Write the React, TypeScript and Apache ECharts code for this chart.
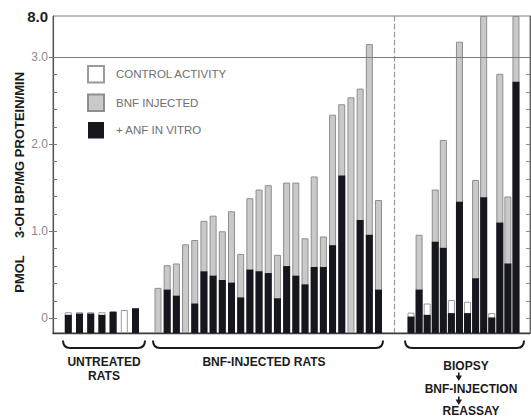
import React, { useEffect, useRef } from 'react';
import * as echarts from 'echarts';

// ---------- data ----------
const untreatedCats = ['U1', 'U2', 'U3', 'U4', 'U5', 'U6', 'U7'];
const untreatedControl = [0.07, 0.07, 0.07, 0.07, 0.08, 0.095, 0.115];
const untreatedAnf = [0.04, 0.055, 0.055, 0.04, 0.075, null, 0.115];

const bnfCats = ['B1', 'B2', 'B3', 'B4', 'B5', 'B6', 'B7', 'B8', 'B9', 'B10', 'B11', 'B12', 'B13', 'B14', 'B15', 'B16', 'B17', 'B18', 'B19', 'B20', 'B21', 'B22', 'B23', 'B24', 'B25'];
const bnfInjected = [0.35, 0.61, 0.63, 0.85, 0.9, 1.12, 1.18, 1.0, 1.23, 0.74, 1.38, 1.48, 1.53, 0.73, 1.56, 1.56, 0.92, 1.63, 0.94, 2.34, 2.46, 2.54, 2.64, 4.6, 1.36];
const bnfAnf = [null, 0.33, 0.26, null, 0.17, 0.54, 0.49, 0.44, 0.41, 0.24, 0.56, 0.54, 0.52, 0.23, 0.6, 0.49, 0.39, 0.59, 0.59, 0.84, 1.64, null, 1.13, 0.96, 0.33];

const biopsyCats = ['P1', 'P2', 'P3', 'P4', 'P5', 'P6', 'P7', 'P8', 'P9', 'P10', 'P11', 'P12', 'P13', 'P14'];
const biopsyControl = [0.065, null, 0.17, null, null, 0.21, null, 0.19, null, null, 0.06, null, null, null];
const biopsyInjected = [null, 0.96, null, 1.48, 2.05, null, 4.88, null, 1.59, 8.0, null, 2.81, 1.4, 8.0];
const biopsyAnf = [0.02, 0.33, 0.04, 0.88, 0.81, 0.06, 1.34, 0.06, 0.46, 1.39, 0.01, 1.1, 0.63, 2.72];

const yLabelValues = [0, 1, 2, 3, 8];
const yLabelTexts = ['0', '1.0', '2.0', '3.0', '8.0'];
const yMajorTicks = [0, 1, 2, 3];
const yMinorStep = 0.2;

const NAME_CONTROL = 'CONTROL ACTIVITY';
const NAME_BNF = 'BNF INJECTED';
const NAME_ANF = '+ ANF IN VITRO';

// ---------- broken scale (linear 0-3, compressed 3-8) ----------
const BREAK_AT = 3;
const AXIS_TOP = 8;
const COMPRESS = 0.0949;
const BELOW_ZERO = 0.169;
const T = (v: number | null) => {
  if (v === null || v === undefined) return null;
  const c = v <= BREAK_AT ? v : BREAK_AT + (v - BREAK_AT) * COMPRESS;
  return BELOW_ZERO + c;
};
const Y_MAX = T(AXIS_TOP) as number;
const minorTicks: number[] = [];
for (let i = 0; i <= Math.round(BREAK_AT / yMinorStep); i++) minorTicks.push(T(i * yMinorStep) as number);

// ---------- custom bracket shape ----------
const Bracket = echarts.graphic.extendShape({
  shape: { x0: 0, x1: 0, y0: 0, y1: 0, r: 6 },
  buildPath(ctx: any, s: any) {
    ctx.moveTo(s.x0, s.y0);
    ctx.quadraticCurveTo(s.x0, s.y1, s.x0 + s.r, s.y1);
    ctx.lineTo(s.x1 - s.r, s.y1);
    ctx.quadraticCurveTo(s.x1, s.y1, s.x1, s.y0);
  },
});
echarts.graphic.registerShape('bracket', Bracket);

const FONT = 'Liberation Sans, Arial, sans-serif';
const INK = '#1b1b1b';

const styles = {
  control: { color: '#ffffff', borderColor: '#9a9a9a', borderWidth: 1 },
  bnf: { color: '#c9c9c9', borderColor: '#8e8e8e', borderWidth: 1 },
  anf: { color: '#16161e', borderColor: '#16161e', borderWidth: 0 },
};

function bar(name: string, data: (number | null)[], grid: number, yIdx: number, style: any) {
  return {
    type: 'bar',
    name,
    xAxisIndex: grid,
    yAxisIndex: yIdx,
    data: data.map((v) => T(v)),
    barWidth: 7,
    barGap: '-100%',
    itemStyle: style,
    emphasis: { disabled: true },
    silent: true,
    z: 2,
  };
}

const label = (text: string, x: number, y: number) => ({
  type: 'text', x, y,
  style: { text, font: `bold 12px ${FONT}`, lineHeight: 12, fill: INK, align: 'center', verticalAlign: 'middle' },
});

export default function App() {
  const ref = useRef<HTMLDivElement>(null);
  useEffect(() => {
    if (!ref.current) return;
    const chart = echarts.init(ref.current, null, { renderer: 'svg' });
    const gridCommon = { top: 16, height: 317, outerBoundsMode: 'none', containLabel: false };
    const hiddenY = (gridIndex: number) => ({ gridIndex, type: 'value', min: 0, max: Y_MAX, show: false });
    const hiddenX = (gridIndex: number, data: string[]) => ({
      gridIndex, type: 'category', data, show: false,
    });
    const option: any = {
      animation: false,
      backgroundColor: '#ffffff',
      grid: [
        { ...gridCommon, left: 53, right: 1, show: true, borderColor: '#7a7a7a', borderWidth: 1, backgroundColor: 'transparent' },
        { ...gridCommon, left: 62.7, width: 78.4 },
        { ...gridCommon, left: 153.4, width: 229.7 },
        { ...gridCommon, left: 407, width: 113 },
      ],
      xAxis: [
        {
          gridIndex: 0, type: 'value', min: 0, max: 1,
          axisLine: { show: true, lineStyle: { color: '#3a3a3a', width: 1.3 } },
          axisTick: { show: false }, axisLabel: { show: false }, splitLine: { show: false },
        },
        hiddenX(1, untreatedCats),
        hiddenX(2, bnfCats),
        hiddenX(3, biopsyCats),
      ],
      yAxis: [
        {
          gridIndex: 0, type: 'value', position: 'left', min: 0, max: Y_MAX,
          axisLine: { show: true, lineStyle: { color: '#555', width: 1.2 } },
          axisTick: { show: true, inside: true, length: 4, customValues: minorTicks, lineStyle: { color: '#777' } },
          axisLabel: {
            show: true,
            customValues: yLabelValues.map((v) => T(v)),
            margin: 5,
            color: '#8a8a8a',
            fontSize: 12,
            fontFamily: FONT,
            formatter: (val: number) => {
              const i = yLabelValues.findIndex((v) => Math.abs((T(v) as number) - val) < 1e-4);
              if (i < 0) return '';
              return yLabelValues[i] === AXIS_TOP ? `{top|${yLabelTexts[i]}}` : yLabelTexts[i];
            },
            rich: { top: { fontSize: 15, fontWeight: 'bold', color: '#222', fontFamily: FONT } },
          },
          splitLine: { show: false },
        },
        {
          gridIndex: 0, type: 'value', position: 'right', min: 0, max: Y_MAX,
          axisLine: { show: true, lineStyle: { color: '#666', width: 1 } },
          axisTick: { show: true, inside: true, length: 4, customValues: minorTicks, lineStyle: { color: '#888' } },
          axisLabel: { show: false },
          splitLine: { show: false },
        },
        hiddenY(1),
        hiddenY(2),
        {
          gridIndex: 3, type: 'value', position: 'left', offset: 12.5, min: 0, max: Y_MAX,
          axisLine: { show: true, lineStyle: { color: '#9a9a9a', width: 1.2, type: [5, 3] } },
          axisTick: { show: false }, axisLabel: { show: false }, splitLine: { show: false },
        },
        {
          gridIndex: 0, type: 'value', position: 'left', min: 0, max: Y_MAX,
          axisLine: { show: false },
          axisTick: { show: true, inside: false, length: 4, customValues: yMajorTicks.map((v) => T(v)), lineStyle: { color: '#777' } },
          axisLabel: { show: false },
          splitLine: { show: false },
        },
      ],
      legend: {
        orient: 'vertical',
        left: 87,
        top: 65,
        padding: 0,
        itemWidth: 16,
        itemHeight: 16.5,
        itemGap: 10,
        icon: 'rect',
        selectedMode: false,
        data: [NAME_CONTROL, NAME_BNF, NAME_ANF],
        textStyle: { color: '#707070', fontSize: 11.5, fontFamily: FONT, padding: [0, 0, 0, 7] },
      },
      series: [
        {
          type: 'line', xAxisIndex: 0, yAxisIndex: 0, data: [], silent: true, z: 5,
          markLine: {
            silent: true, symbol: ['none', 'none'], label: { show: false },
            lineStyle: { color: '#7a7a7a', width: 1.2, type: 'solid' },
            data: [{ yAxis: T(BREAK_AT) }],
          },
        },
        bar(NAME_CONTROL, untreatedControl, 1, 2, styles.control),
        bar(NAME_ANF, untreatedAnf, 1, 2, styles.anf),
        bar(NAME_BNF, bnfInjected, 2, 3, styles.bnf),
        bar(NAME_ANF, bnfAnf, 2, 3, styles.anf),
        bar(NAME_CONTROL, biopsyControl, 3, 4, styles.control),
        bar(NAME_BNF, biopsyInjected, 3, 4, styles.bnf),
        bar(NAME_ANF, biopsyAnf, 3, 4, styles.anf),
      ],
      graphic: [
        {
          type: 'text', x: 19, y: 274, rotation: Math.PI / 2,
          style: { text: 'PMOL', font: `bold 13px ${FONT}`, fill: INK, align: 'center', verticalAlign: 'middle' },
        },
        {
          type: 'text', x: 19, y: 155, rotation: Math.PI / 2,
          style: { text: '3-OH BP/MG PROTEIN/MIN', font: `bold 13px ${FONT}`, fill: INK, align: 'center', verticalAlign: 'middle' },
        },
        { type: 'bracket', shape: { x0: 63, x1: 145, y0: 340.5, y1: 348, r: 7 }, style: { stroke: INK, lineWidth: 2, fill: 'none' } },
        { type: 'bracket', shape: { x0: 153, x1: 383, y0: 340.5, y1: 348, r: 7 }, style: { stroke: INK, lineWidth: 2, fill: 'none' } },
        { type: 'bracket', shape: { x0: 405, x1: 524, y0: 340.5, y1: 348, r: 7 }, style: { stroke: INK, lineWidth: 2, fill: 'none' } },
        label('UNTREATED', 104, 362),
        label('RATS', 104, 376),
        label('BNF-INJECTED RATS', 264, 362),
        label('BIOPSY', 466, 366),
        { type: 'line', shape: { x1: 458.8, y1: 372.5, x2: 458.8, y2: 376 }, style: { stroke: INK, lineWidth: 1.6 } },
        { type: 'polygon', shape: { points: [[455.6, 375.5], [462, 375.5], [458.8, 381]] }, style: { fill: INK } },
        label('BNF-INJECTION', 471, 389),
        { type: 'line', shape: { x1: 458.8, y1: 396.5, x2: 458.8, y2: 400 }, style: { stroke: INK, lineWidth: 1.6 } },
        { type: 'polygon', shape: { points: [[455.6, 399.5], [462, 399.5], [458.8, 405]] }, style: { fill: INK } },
        label('REASSAY', 471, 410.5),
      ],
    };
    chart.setOption(option);
    return () => chart.dispose();
  }, []);
  return (
    <div
      ref={ref}
      style={{ position: 'absolute', left: 0, top: 0, width: 531, height: 418, background: '#fff' }}
    />
  );
}
